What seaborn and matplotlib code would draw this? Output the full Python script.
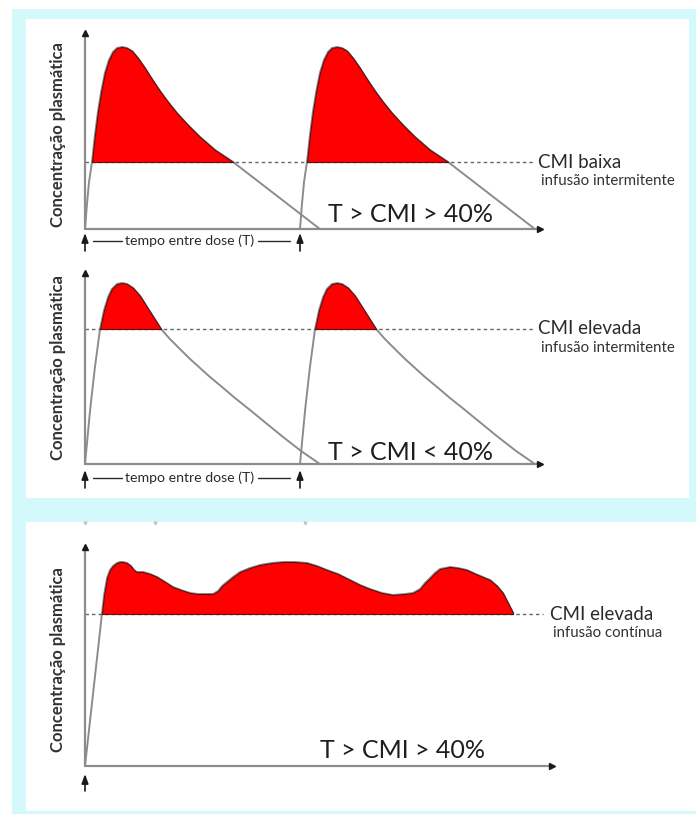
import numpy as np
import matplotlib
matplotlib.use("Agg")
import matplotlib.pyplot as plt
import seaborn as sns
from matplotlib.patches import Rectangle

# dados (tempo em h, concentração em unidades arbitrárias)
dose_times = [0, 8]

# painel 1: CMI baixa, infusão intermitente (perfil de uma dose)
t_baixa = [0, 0.07, 0.15, 0.26, 0.37, 0.48, 0.6, 0.74, 0.89, 1.04, 1.19, 1.38, 1.56, 1.75,
           1.97, 2.23, 2.49, 2.79, 3.09, 3.42, 3.83, 4.28, 4.84, 5.51, 8.74]
c_baixa = [0, 1.2, 2.35, 3.35, 4.7, 5.85, 6.85, 7.8, 8.45, 8.85, 9.05, 9.1, 9.05, 8.9,
           8.55, 8.05, 7.5, 6.9, 6.35, 5.8, 5.2, 4.6, 3.95, 3.35, 0]
cmi_baixa = 3.35

# painel 2: CMI elevada, infusão intermitente
t_elev = [0, 0.19, 0.37, 0.56, 0.71, 0.86, 1.0, 1.19, 1.38, 1.56, 1.79, 2.05, 2.31, 2.57,
          2.83, 3.16, 3.53, 3.91, 4.28, 4.65, 5.1, 5.58, 6.14, 6.73, 7.37, 8.04, 8.74]
c_elev = [0, 2.7, 4.85, 6.75, 7.7, 8.35, 8.75, 9.0, 9.05, 9.0, 8.8, 8.4, 7.85, 7.3,
          6.75, 6.25, 5.75, 5.25, 4.8, 4.35, 3.85, 3.3, 2.7, 2.05, 1.35, 0.65, 0]
cmi_elev = 6.75

# painel 3: CMI elevada, infusão contínua
t_cont = [0, 0.63, 0.71, 0.82, 0.93, 1.04, 1.19, 1.30, 1.41, 1.56, 1.71, 1.82, 1.93, 2.16,
          2.42, 2.68, 2.98, 3.27, 3.57, 3.91, 4.20, 4.54, 4.76, 4.95, 5.10, 5.28, 5.51,
          5.77, 6.14, 6.51, 6.96, 7.37, 7.81, 8.26, 8.63, 9.0, 9.41, 9.86, 10.23, 10.6,
          11.05, 11.46, 11.91, 12.2, 12.47, 12.65, 12.84, 13.02, 13.21, 13.58, 13.88,
          14.21, 14.62, 15.07, 15.33, 15.55, 15.74, 15.93]
c_cont = [0, 7.6, 8.55, 9.4, 9.8, 10.0, 10.15, 10.2, 10.2, 10.15, 10.0, 9.8, 9.7, 9.7,
          9.6, 9.45, 9.2, 8.95, 8.8, 8.65, 8.6, 8.6, 8.6, 8.75, 9.0, 9.2, 9.45,
          9.7, 9.9, 10.05, 10.15, 10.2, 10.2, 10.15, 10.0, 9.8, 9.6, 9.3, 9.05, 8.85,
          8.65, 8.55, 8.6, 8.65, 8.85, 9.15, 9.4, 9.65, 9.85, 9.95, 9.9,
          9.8, 9.55, 9.3, 9.0, 8.65, 8.15, 7.65]
cmi_cont = 7.6

titulos = ["CMI baixa", "CMI elevada", "CMI elevada"]
subtitulos = ["infusão intermitente", "infusão intermitente", "infusão contínua"]
resultados = ["T > CMI > 40%", "T > CMI < 40%", "T > CMI > 40%"]

sns.set_theme(style="white")
plt.rcParams["font.family"] = ["Lato", "DejaVu Sans"]

CIANO = "#d3f9fb"
VERMELHO = "#ff0000"
BORDA = "#5a1212"
CINZA = "#8c8c8c"
TEXTO = "#2b2b2b"

W, H = 696, 814
fig = plt.figure(figsize=(W / 100, H / 100), dpi=100)
fig.patch.set_facecolor("white")


def rect(x0, y0, x1, y1):
    return [x0 / W, 1 - y1 / H, (x1 - x0) / W, (y1 - y0) / H]


# fundo: moldura ciano e dois cartões brancos
bg = fig.add_axes([0, 0, 1, 1])
bg.set_xlim(0, W)
bg.set_ylim(H, 0)
bg.axis("off")
bg.add_patch(Rectangle((12, 9), W - 12, H - 9, color=CIANO, lw=0))
bg.add_patch(Rectangle((26, 19), 663, 479, color="white", lw=0))
bg.add_patch(Rectangle((26, 522), 670, 289, color="white", lw=0))


def eixos(ax, xmax, ymax):
    ax.plot([0, xmax], [0, 0], color=CINZA, lw=1.6, clip_on=False)
    ax.plot([0, 0], [0, ymax], color=CINZA, lw=1.6, clip_on=False)
    ax.plot(xmax, 0, marker=">", color="k", ms=4.5, clip_on=False)
    ax.plot(0, ymax, marker="^", color="k", ms=4.5, clip_on=False)


def curva(ax, t, c, cmi):
    t = np.asarray(t, dtype=float)
    c = np.asarray(c, dtype=float)
    sns.lineplot(x=t, y=c, ax=ax, color=CINZA, lw=1.4, sort=False)
    ax.fill_between(t, c, cmi, where=c >= cmi, interpolate=True,
                    facecolor=VERMELHO, edgecolor=BORDA, lw=0.8, zorder=3)


def seta_dose(ax, td, y0, y1):
    ax.annotate("", xy=(td, y1), xytext=(td, y0), annotation_clip=False,
                arrowprops=dict(arrowstyle="-|>,head_length=0.55,head_width=0.2",
                                color="k", lw=1.2, mutation_scale=10,
                                shrinkA=0, shrinkB=0))


def tempo_entre_doses(ax, y):
    for td in dose_times:
        seta_dose(ax, td, y - 0.5, y + 0.4)
    ax.plot([0.3, 1.38], [y, y], color=TEXTO, lw=1.0, clip_on=False)
    ax.plot([6.44, 7.63], [y, y], color=TEXTO, lw=1.0, clip_on=False)
    ax.text(3.9, y, "tempo entre dose (T)", ha="center", va="center",
            fontsize=10.2, color=TEXTO)


def rotulos(ax, i, cmi, x_cmi, x_res, y_res, y_lab):
    ax.text(x_cmi, cmi, titulos[i], ha="left", va="center", fontsize=13.5, color=TEXTO)
    ax.text(x_cmi + 0.1, cmi - 0.95, subtitulos[i], ha="left", va="center",
            fontsize=10.8, color="#333333")
    ax.text(x_res, y_res, resultados[i], ha="left", va="center", fontsize=18, color="#1e1e1e")
    ax.text(-1.0, y_lab, "Concentração plasmática", rotation=90, ha="center", va="center",
            fontsize=12, fontweight="bold", color="#333333")


PX_H = 26.875  # pixels por hora
PX_C = 20.0    # pixels por unidade de concentração

# painel 1
ax1 = fig.add_axes(rect(85, 229 - 10 * PX_C, 85 + 17.5 * PX_H, 229))
for d in dose_times:
    curva(ax1, np.array(t_baixa) + d, c_baixa, cmi_baixa)
ax1.plot([0, 16.67], [cmi_baixa, cmi_baixa], color="#666666", lw=1.0, ls=(0, (2.5, 2.2)), zorder=2)
eixos(ax1, 16.93, 9.8)
tempo_entre_doses(ax1, -0.6)
rotulos(ax1, 0, cmi_baixa, 16.86, 9.04, 0.7, 4.7)

# painel 2
ax2 = fig.add_axes(rect(85, 464 - 10 * PX_C, 85 + 17.5 * PX_H, 464))
for d in dose_times:
    curva(ax2, np.array(t_elev) + d, c_elev, cmi_elev)
ax2.plot([0, 16.67], [cmi_elev, cmi_elev], color="#666666", lw=1.0, ls=(0, (2.5, 2.2)), zorder=2)
eixos(ax2, 16.93, 9.55)
tempo_entre_doses(ax2, -0.7)
rotulos(ax2, 1, cmi_elev, 16.86, 9.04, 0.6, 4.8)

# painel 3
ax3 = fig.add_axes(rect(85, 766 - 11.5 * PX_C, 85 + 17.5 * PX_H, 766))
curva(ax3, t_cont, c_cont, cmi_cont)
ax3.plot([0, 17.04], [cmi_cont, cmi_cont], color="#666666", lw=1.0, ls=(0, (2.5, 2.2)), zorder=2)
eixos(ax3, 17.38, 10.95)
seta_dose(ax3, 0, -1.25, -0.4)
ax3.plot([0, 2.6, 8.2], [12.15] * 3, ls="none", marker="v", ms=2, color="#c4c4c4", clip_on=False)
rotulos(ax3, 2, cmi_cont, 17.3, 8.74, 0.8, 5.3)

for ax, ymax in [(ax1, 10), (ax2, 10), (ax3, 11.5)]:
    ax.set_xlim(0, 17.5)
    ax.set_ylim(0, ymax)
    ax.axis("off")

fig.savefig("out.png", dpi=100, facecolor="white")
